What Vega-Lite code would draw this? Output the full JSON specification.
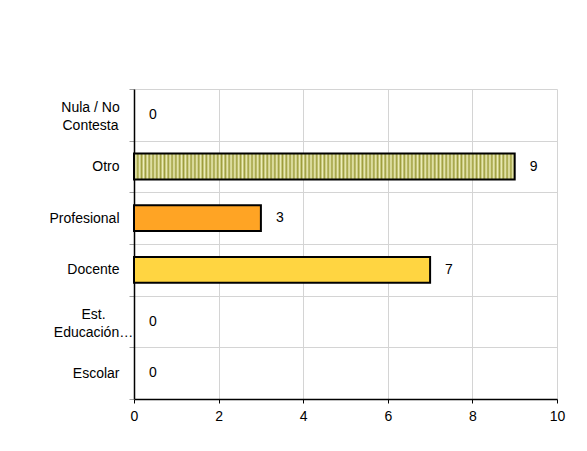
{
  "$schema": "https://vega.github.io/schema/vega-lite/v6.json",
  "autosize": "none",
  "width": 423,
  "height": 310,
  "padding": {"left": 134, "top": 89, "right": 30, "bottom": 52},
  "background": "white",
  "config": {
    "view": {"stroke": null},
    "font": "Liberation Sans",
    "axis": {"labelFont": "Liberation Sans", "labelFontSize": 14, "labelColor": "black", "title": null}
  },
  "data": {
    "values": [
      {"categoria": "Nula / No Contesta", "valor": 0},
      {"categoria": "Otro", "valor": 9},
      {"categoria": "Profesional", "valor": 3},
      {"categoria": "Docente", "valor": 7},
      {"categoria": "Est. Educación…", "valor": 0},
      {"categoria": "Escolar", "valor": 0}
    ]
  },
  "encoding": {
    "y": {
      "field": "categoria",
      "type": "nominal",
      "sort": null,
      "scale": {"paddingInner": 0, "paddingOuter": 0},
      "axis": {
        "tickBand": "extent",
        "grid": true,
        "gridColor": "#d4d4d4",
        "tickColor": "#a0a0a0",
        "tickSize": 5,
        "domainColor": "black",
        "domainWidth": 1.5,
        "labelLineHeight": 18,
        "labelOffset": {"condition": {"test": "datum.value == 'Nula / No Contesta' || datum.value == 'Est. Educación…'", "value": -7}, "value": 0},
        "labelAlign": {"condition": {"test": "datum.value == 'Nula / No Contesta' || datum.value == 'Est. Educación…'", "value": "center"}, "value": "right"},
        "labelPadding": {"condition": [
          {"test": "datum.value == 'Nula / No Contesta'", "value": 39},
          {"test": "datum.value == 'Est. Educación…'", "value": 36}
        ], "value": 10},
        "labelExpr": "datum.value == 'Nula / No Contesta' ? ['Nula / No', 'Contesta'] : datum.value == 'Est. Educación…' ? ['Est.', 'Educación…'] : datum.label"
      }
    }
  },
  "layer": [
    {
      "mark": {"type": "bar", "stroke": "black", "height": {"band": 0.5}},
      "encoding": {
        "x": {
          "field": "valor",
          "type": "quantitative",
          "scale": {"domain": [0, 10]},
          "axis": {
            "values": [0, 2, 4, 6, 8, 10],
            "grid": true,
            "gridColor": "#d4d4d4",
            "domainColor": "black",
            "domainWidth": 1.5,
            "tickColor": "black",
            "tickSize": 4,
            "labelPadding": 6,
            "labelFlush": false
          }
        },
        "strokeWidth": {"condition": {"test": "datum.valor == 0", "value": 0}, "value": 2},
        "color": {
          "condition": {
            "test": "datum.categoria == 'Otro'",
            "value": {
              "gradient": "linear", "x1": 0, "x2": 1, "y1": 0, "y2": 0,
              "stops": [
                {"offset": 0, "color": "#9c9c3a"}, {"offset": 0.005, "color": "#eeeebb"},
                {"offset": 0.01, "color": "#9c9c3a"}, {"offset": 0.015, "color": "#eeeebb"},
                {"offset": 0.02, "color": "#9c9c3a"}, {"offset": 0.025, "color": "#eeeebb"},
                {"offset": 0.03, "color": "#9c9c3a"}, {"offset": 0.035, "color": "#eeeebb"},
                {"offset": 0.04, "color": "#9c9c3a"}, {"offset": 0.045, "color": "#eeeebb"},
                {"offset": 0.05, "color": "#9c9c3a"}, {"offset": 0.055, "color": "#eeeebb"},
                {"offset": 0.06, "color": "#9c9c3a"}, {"offset": 0.065, "color": "#eeeebb"},
                {"offset": 0.07, "color": "#9c9c3a"}, {"offset": 0.075, "color": "#eeeebb"},
                {"offset": 0.08, "color": "#9c9c3a"}, {"offset": 0.085, "color": "#eeeebb"},
                {"offset": 0.09, "color": "#9c9c3a"}, {"offset": 0.095, "color": "#eeeebb"},
                {"offset": 0.1, "color": "#9c9c3a"}, {"offset": 0.105, "color": "#eeeebb"},
                {"offset": 0.11, "color": "#9c9c3a"}, {"offset": 0.115, "color": "#eeeebb"},
                {"offset": 0.12, "color": "#9c9c3a"}, {"offset": 0.125, "color": "#eeeebb"},
                {"offset": 0.13, "color": "#9c9c3a"}, {"offset": 0.135, "color": "#eeeebb"},
                {"offset": 0.14, "color": "#9c9c3a"}, {"offset": 0.145, "color": "#eeeebb"},
                {"offset": 0.15, "color": "#9c9c3a"}, {"offset": 0.155, "color": "#eeeebb"},
                {"offset": 0.16, "color": "#9c9c3a"}, {"offset": 0.165, "color": "#eeeebb"},
                {"offset": 0.17, "color": "#9c9c3a"}, {"offset": 0.175, "color": "#eeeebb"},
                {"offset": 0.18, "color": "#9c9c3a"}, {"offset": 0.185, "color": "#eeeebb"},
                {"offset": 0.19, "color": "#9c9c3a"}, {"offset": 0.195, "color": "#eeeebb"},
                {"offset": 0.2, "color": "#9c9c3a"}, {"offset": 0.205, "color": "#eeeebb"},
                {"offset": 0.21, "color": "#9c9c3a"}, {"offset": 0.215, "color": "#eeeebb"},
                {"offset": 0.22, "color": "#9c9c3a"}, {"offset": 0.225, "color": "#eeeebb"},
                {"offset": 0.23, "color": "#9c9c3a"}, {"offset": 0.235, "color": "#eeeebb"},
                {"offset": 0.24, "color": "#9c9c3a"}, {"offset": 0.245, "color": "#eeeebb"},
                {"offset": 0.25, "color": "#9c9c3a"}, {"offset": 0.255, "color": "#eeeebb"},
                {"offset": 0.26, "color": "#9c9c3a"}, {"offset": 0.265, "color": "#eeeebb"},
                {"offset": 0.27, "color": "#9c9c3a"}, {"offset": 0.275, "color": "#eeeebb"},
                {"offset": 0.28, "color": "#9c9c3a"}, {"offset": 0.285, "color": "#eeeebb"},
                {"offset": 0.29, "color": "#9c9c3a"}, {"offset": 0.295, "color": "#eeeebb"},
                {"offset": 0.3, "color": "#9c9c3a"}, {"offset": 0.305, "color": "#eeeebb"},
                {"offset": 0.31, "color": "#9c9c3a"}, {"offset": 0.315, "color": "#eeeebb"},
                {"offset": 0.32, "color": "#9c9c3a"}, {"offset": 0.325, "color": "#eeeebb"},
                {"offset": 0.33, "color": "#9c9c3a"}, {"offset": 0.335, "color": "#eeeebb"},
                {"offset": 0.34, "color": "#9c9c3a"}, {"offset": 0.345, "color": "#eeeebb"},
                {"offset": 0.35, "color": "#9c9c3a"}, {"offset": 0.355, "color": "#eeeebb"},
                {"offset": 0.36, "color": "#9c9c3a"}, {"offset": 0.365, "color": "#eeeebb"},
                {"offset": 0.37, "color": "#9c9c3a"}, {"offset": 0.375, "color": "#eeeebb"},
                {"offset": 0.38, "color": "#9c9c3a"}, {"offset": 0.385, "color": "#eeeebb"},
                {"offset": 0.39, "color": "#9c9c3a"}, {"offset": 0.395, "color": "#eeeebb"},
                {"offset": 0.4, "color": "#9c9c3a"}, {"offset": 0.405, "color": "#eeeebb"},
                {"offset": 0.41, "color": "#9c9c3a"}, {"offset": 0.415, "color": "#eeeebb"},
                {"offset": 0.42, "color": "#9c9c3a"}, {"offset": 0.425, "color": "#eeeebb"},
                {"offset": 0.43, "color": "#9c9c3a"}, {"offset": 0.435, "color": "#eeeebb"},
                {"offset": 0.44, "color": "#9c9c3a"}, {"offset": 0.445, "color": "#eeeebb"},
                {"offset": 0.45, "color": "#9c9c3a"}, {"offset": 0.455, "color": "#eeeebb"},
                {"offset": 0.46, "color": "#9c9c3a"}, {"offset": 0.465, "color": "#eeeebb"},
                {"offset": 0.47, "color": "#9c9c3a"}, {"offset": 0.475, "color": "#eeeebb"},
                {"offset": 0.48, "color": "#9c9c3a"}, {"offset": 0.485, "color": "#eeeebb"},
                {"offset": 0.49, "color": "#9c9c3a"}, {"offset": 0.495, "color": "#eeeebb"},
                {"offset": 0.5, "color": "#9c9c3a"}, {"offset": 0.505, "color": "#eeeebb"},
                {"offset": 0.51, "color": "#9c9c3a"}, {"offset": 0.515, "color": "#eeeebb"},
                {"offset": 0.52, "color": "#9c9c3a"}, {"offset": 0.525, "color": "#eeeebb"},
                {"offset": 0.53, "color": "#9c9c3a"}, {"offset": 0.535, "color": "#eeeebb"},
                {"offset": 0.54, "color": "#9c9c3a"}, {"offset": 0.545, "color": "#eeeebb"},
                {"offset": 0.55, "color": "#9c9c3a"}, {"offset": 0.555, "color": "#eeeebb"},
                {"offset": 0.56, "color": "#9c9c3a"}, {"offset": 0.565, "color": "#eeeebb"},
                {"offset": 0.57, "color": "#9c9c3a"}, {"offset": 0.575, "color": "#eeeebb"},
                {"offset": 0.58, "color": "#9c9c3a"}, {"offset": 0.585, "color": "#eeeebb"},
                {"offset": 0.59, "color": "#9c9c3a"}, {"offset": 0.595, "color": "#eeeebb"},
                {"offset": 0.6, "color": "#9c9c3a"}, {"offset": 0.605, "color": "#eeeebb"},
                {"offset": 0.61, "color": "#9c9c3a"}, {"offset": 0.615, "color": "#eeeebb"},
                {"offset": 0.62, "color": "#9c9c3a"}, {"offset": 0.625, "color": "#eeeebb"},
                {"offset": 0.63, "color": "#9c9c3a"}, {"offset": 0.635, "color": "#eeeebb"},
                {"offset": 0.64, "color": "#9c9c3a"}, {"offset": 0.645, "color": "#eeeebb"},
                {"offset": 0.65, "color": "#9c9c3a"}, {"offset": 0.655, "color": "#eeeebb"},
                {"offset": 0.66, "color": "#9c9c3a"}, {"offset": 0.665, "color": "#eeeebb"},
                {"offset": 0.67, "color": "#9c9c3a"}, {"offset": 0.675, "color": "#eeeebb"},
                {"offset": 0.68, "color": "#9c9c3a"}, {"offset": 0.685, "color": "#eeeebb"},
                {"offset": 0.69, "color": "#9c9c3a"}, {"offset": 0.695, "color": "#eeeebb"},
                {"offset": 0.7, "color": "#9c9c3a"}, {"offset": 0.705, "color": "#eeeebb"},
                {"offset": 0.71, "color": "#9c9c3a"}, {"offset": 0.715, "color": "#eeeebb"},
                {"offset": 0.72, "color": "#9c9c3a"}, {"offset": 0.725, "color": "#eeeebb"},
                {"offset": 0.73, "color": "#9c9c3a"}, {"offset": 0.735, "color": "#eeeebb"},
                {"offset": 0.74, "color": "#9c9c3a"}, {"offset": 0.745, "color": "#eeeebb"},
                {"offset": 0.75, "color": "#9c9c3a"}, {"offset": 0.755, "color": "#eeeebb"},
                {"offset": 0.76, "color": "#9c9c3a"}, {"offset": 0.765, "color": "#eeeebb"},
                {"offset": 0.77, "color": "#9c9c3a"}, {"offset": 0.775, "color": "#eeeebb"},
                {"offset": 0.78, "color": "#9c9c3a"}, {"offset": 0.785, "color": "#eeeebb"},
                {"offset": 0.79, "color": "#9c9c3a"}, {"offset": 0.795, "color": "#eeeebb"},
                {"offset": 0.8, "color": "#9c9c3a"}, {"offset": 0.805, "color": "#eeeebb"},
                {"offset": 0.81, "color": "#9c9c3a"}, {"offset": 0.815, "color": "#eeeebb"},
                {"offset": 0.82, "color": "#9c9c3a"}, {"offset": 0.825, "color": "#eeeebb"},
                {"offset": 0.83, "color": "#9c9c3a"}, {"offset": 0.835, "color": "#eeeebb"},
                {"offset": 0.84, "color": "#9c9c3a"}, {"offset": 0.845, "color": "#eeeebb"},
                {"offset": 0.85, "color": "#9c9c3a"}, {"offset": 0.855, "color": "#eeeebb"},
                {"offset": 0.86, "color": "#9c9c3a"}, {"offset": 0.865, "color": "#eeeebb"},
                {"offset": 0.87, "color": "#9c9c3a"}, {"offset": 0.875, "color": "#eeeebb"},
                {"offset": 0.88, "color": "#9c9c3a"}, {"offset": 0.885, "color": "#eeeebb"},
                {"offset": 0.89, "color": "#9c9c3a"}, {"offset": 0.895, "color": "#eeeebb"},
                {"offset": 0.9, "color": "#9c9c3a"}, {"offset": 0.905, "color": "#eeeebb"},
                {"offset": 0.91, "color": "#9c9c3a"}, {"offset": 0.915, "color": "#eeeebb"},
                {"offset": 0.92, "color": "#9c9c3a"}, {"offset": 0.925, "color": "#eeeebb"},
                {"offset": 0.93, "color": "#9c9c3a"}, {"offset": 0.935, "color": "#eeeebb"},
                {"offset": 0.94, "color": "#9c9c3a"}, {"offset": 0.945, "color": "#eeeebb"},
                {"offset": 0.95, "color": "#9c9c3a"}, {"offset": 0.955, "color": "#eeeebb"},
                {"offset": 0.96, "color": "#9c9c3a"}, {"offset": 0.965, "color": "#eeeebb"},
                {"offset": 0.97, "color": "#9c9c3a"}, {"offset": 0.975, "color": "#eeeebb"},
                {"offset": 0.98, "color": "#9c9c3a"}, {"offset": 0.985, "color": "#eeeebb"},
                {"offset": 0.99, "color": "#9c9c3a"}, {"offset": 0.995, "color": "#eeeebb"},
                {"offset": 1, "color": "#9c9c3a"}
              ]
            }
          },
          "field": "categoria",
          "type": "nominal",
          "legend": null,
          "scale": {
            "domain": ["Nula / No Contesta", "Otro", "Profesional", "Docente", "Est. Educación…", "Escolar"],
            "range": ["#cccccc", "#b3b352", "#ffa424", "#ffd541", "#cccccc", "#cccccc"]
          }
        }
      }
    },
    {
      "mark": {"type": "text", "align": "left", "baseline": "middle", "dx": 15, "fontSize": 14, "font": "Liberation Sans", "color": "black"},
      "encoding": {
        "x": {"field": "valor", "type": "quantitative"},
        "text": {"field": "valor", "type": "quantitative"}
      }
    }
  ]
}
